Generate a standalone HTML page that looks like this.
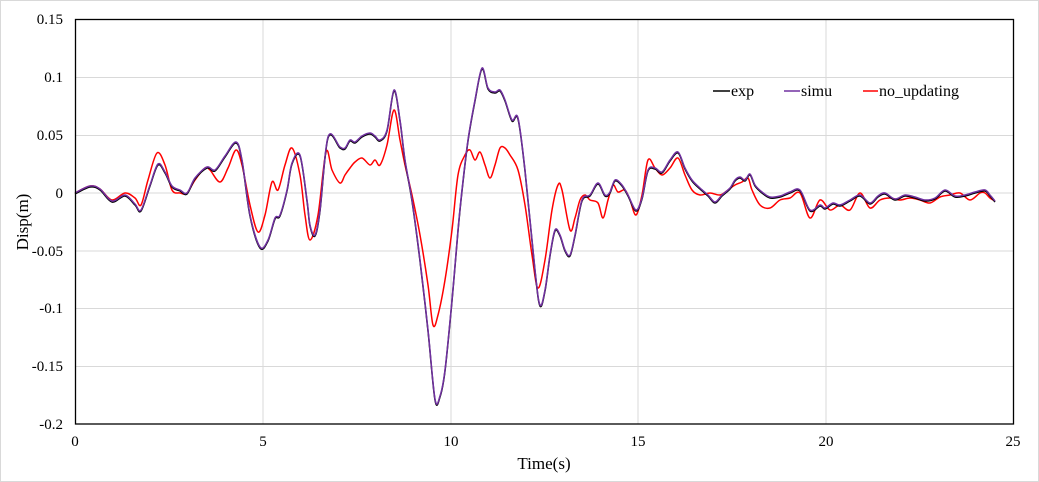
<!DOCTYPE html>
<html><head><style>
body{margin:0;background:#fff}
svg{display:block}
text{font-family:"Liberation Serif",serif;fill:#000}
</style></head><body>
<svg id="s" width="1039" height="482" viewBox="0 0 1039 482" xmlns="http://www.w3.org/2000/svg">
<rect x="0.5" y="0.5" width="1038" height="481" fill="#fff" stroke="#d9d9d9"/>
<g stroke="#d9d9d9" stroke-width="1">
<line x1="263" y1="19.5" x2="263" y2="424"/>
<line x1="451" y1="19.5" x2="451" y2="424"/>
<line x1="638" y1="19.5" x2="638" y2="424"/>
<line x1="826" y1="19.5" x2="826" y2="424"/>
<line x1="75.5" y1="77.5" x2="1013" y2="77.5"/>
<line x1="75.5" y1="135.5" x2="1013" y2="135.5"/>
<line x1="75.5" y1="193" x2="1013" y2="193"/>
<line x1="75.5" y1="251" x2="1013" y2="251"/>
<line x1="75.5" y1="308.5" x2="1013" y2="308.5"/>
<line x1="75.5" y1="366.5" x2="1013" y2="366.5"/>
</g>
<g font-size="15" text-anchor="end">
<text x="63" y="24">0.15</text><text x="63" y="82">0.1</text><text x="63" y="140">0.05</text>
<text x="63" y="198">0</text><text x="63" y="256">-0.05</text><text x="63" y="313">-0.1</text>
<text x="63" y="371">-0.15</text><text x="63" y="429">-0.2</text>
</g>
<g font-size="15" text-anchor="middle">
<text x="75" y="446">0</text><text x="263" y="446">5</text><text x="451" y="446">10</text>
<text x="638" y="446">15</text><text x="826" y="446">20</text><text x="1013" y="446">25</text>
</g>
<text x="544" y="469" font-size="17" text-anchor="middle">Time(s)</text>
<text transform="translate(28,222) rotate(-90)" font-size="17" text-anchor="middle">Disp(m)</text>
<g id="lines"></g>
<rect x="75.5" y="19.5" width="938" height="404.5" fill="none" stroke="#000" stroke-width="1.3"/>
<g font-size="16">
<line x1="713" y1="91" x2="730" y2="91" stroke="#000" stroke-width="1.5"/><text x="731" y="96">exp</text>
<line x1="784" y1="91" x2="800" y2="91" stroke="#7030a0" stroke-width="1.5"/><text x="801" y="96">simu</text>
<line x1="863" y1="91" x2="878" y2="91" stroke="#f00" stroke-width="1.5"/><text x="879" y="96">no_updating</text>
</g>
</svg>
<script>
var P=[75,193,90,186,100,189,112,201,125,195,135,204,141,210,150,185,158,164,165,172,172,186,180,190,187,193,195,178,207,167,215,170,225,156,236,142,242,160,250,215,260,247,268,240,275,218,280,215,287,190,292,163,300,155,307,200,310,225,315,235,320,210,328,137,340,147,345,148,350,140,355,142,362,136,370,133,375,136,380,140,387,130,394,90,400,120,405,160,412,200,420,260,428,330,435,399,440,396,445,370,452,300,458,230,462,190,468,140,475,100,482,68,488,88,495,92,500,90,505,100,512,120,518,118,525,170,535,270,540,305,545,290,550,255,555,230,560,235,565,250,570,255,575,235,582,200,590,195,598,183,605,195,610,192,615,180,622,185,628,195,636,210,642,198,648,170,655,168,662,172,670,160,678,152,685,168,692,180,700,188,708,195,715,202,722,195,730,188,735,180,740,177,745,180,750,174,755,185,762,192,770,197,780,196,790,192,800,190,810,210,820,205,825,208,833,203,840,205,850,200,860,195,870,203,878,196,885,193,895,199,905,195,915,197,925,200,935,198,945,190,955,196,965,195,975,192,985,190,990,195,995,201];
var R=[75,193,90,186,100,189,112,200,125,193,135,198,141,205,148,180,157,153,165,165,172,190,180,193,187,193,195,180,205,168,210,170,220,182,228,168,236,150,242,165,250,205,258,232,265,215,272,182,278,190,285,165,292,148,300,175,305,215,310,240,318,215,326,152,332,170,340,183,345,175,350,168,355,162,362,158,370,165,375,160,380,165,387,145,394,110,400,140,405,165,412,195,420,235,428,285,433,325,438,315,445,280,452,230,458,175,465,155,470,150,475,160,480,152,485,165,490,178,495,165,500,148,505,148,510,155,518,170,525,205,532,255,538,288,545,260,552,210,558,185,562,190,570,230,575,218,580,200,585,195,590,200,598,203,603,218,608,200,613,185,618,192,625,190,630,200,636,215,642,195,648,160,655,168,662,175,670,168,678,158,685,175,692,190,700,195,710,193,720,195,728,190,735,185,742,182,748,178,752,190,760,205,770,208,780,200,790,198,800,193,810,218,820,200,830,210,840,205,850,210,860,193,870,208,880,200,890,198,900,200,910,198,920,200,930,203,940,197,950,195,960,193,970,200,980,193,985,193,990,198,995,201];
function path(a,dy){var p=[];for(var i=0;i<a.length;i+=2)p.push([a[i],a[i+1]+dy]);
var d="M"+p[0][0]+","+p[0][1];for(var i=0;i<p.length-1;i++){var p0=p[i-1]||p[i],p1=p[i],p2=p[i+1],p3=p[i+2]||p2;
d+=" C"+(p1[0]+(p2[0]-p0[0])/6)+","+(p1[1]+(p2[1]-p0[1])/6)+" "+(p2[0]-(p3[0]-p1[0])/6)+","+(p2[1]-(p3[1]-p1[1])/6)+" "+p2[0]+","+p2[1];}return d;}
var g=document.getElementById("lines"),ns="http://www.w3.org/2000/svg";
[[R,0,"#f00"],[P,1,"#000"],[P,0,"#7030a0"]].forEach(function(s){var e=document.createElementNS(ns,"path");e.setAttribute("d",path(s[0],s[1]));e.setAttribute("fill","none");e.setAttribute("stroke",s[2]);e.setAttribute("stroke-width","1.5");g.appendChild(e);});
</script>
</body></html>
